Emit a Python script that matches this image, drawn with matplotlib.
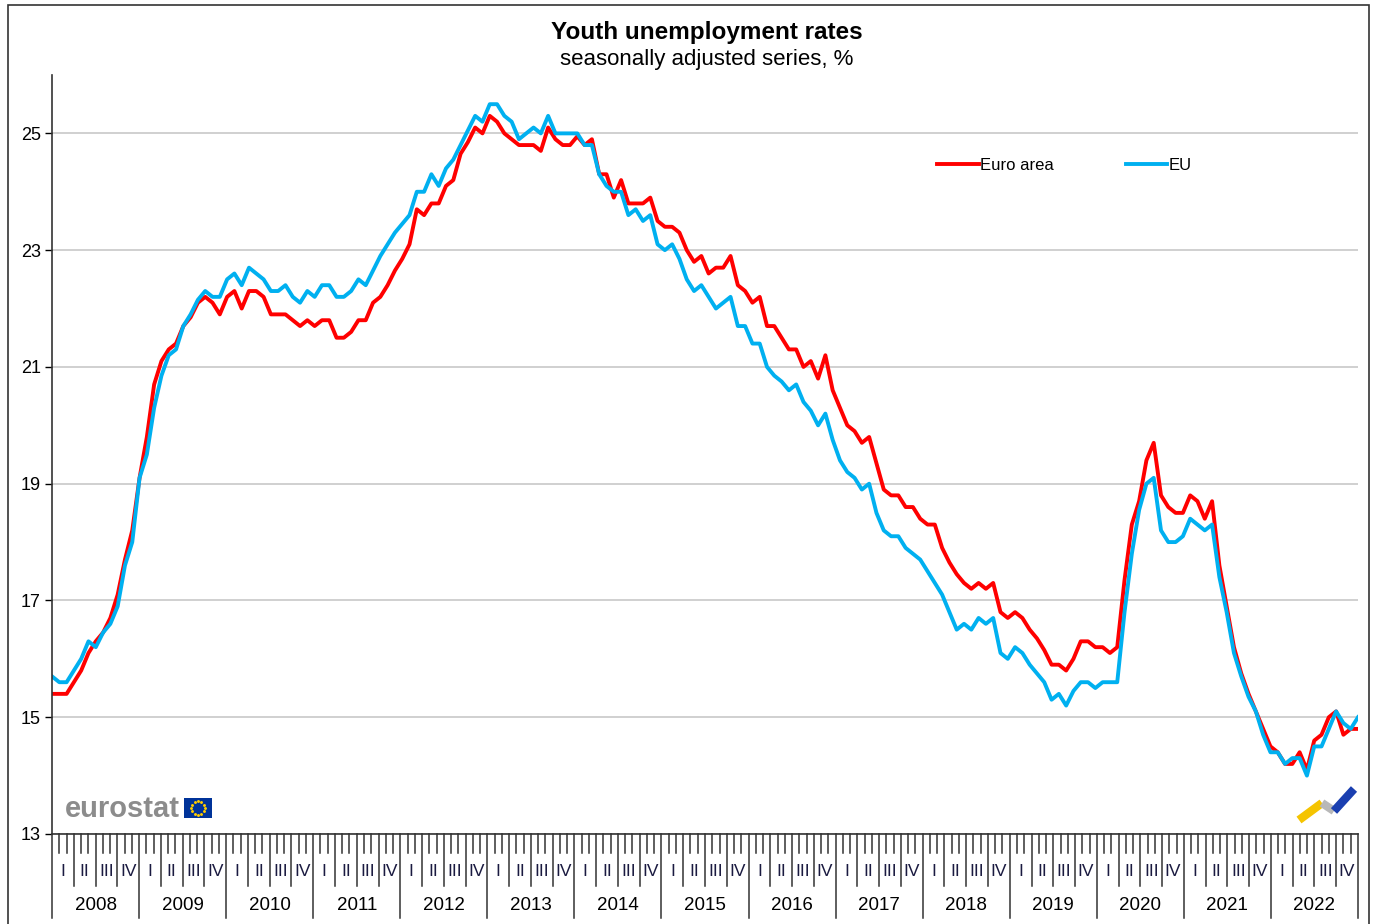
import numpy as np
import matplotlib
matplotlib.use("Agg")
import matplotlib.pyplot as plt
from matplotlib.patches import Rectangle
from matplotlib.lines import Line2D
from matplotlib.transforms import blended_transform_factory

plt.rcParams['font.family'] = ['Liberation Sans', 'DejaVu Sans']

# monthly values, Jan 2008 .. Dec 2022
euro_area = [
    15.4, 15.4, 15.4, 15.6, 15.8, 16.1, 16.3, 16.45, 16.7, 17.1, 17.7, 18.2,
    19.1, 19.8, 20.7, 21.1, 21.3, 21.4, 21.7, 21.85, 22.1, 22.2, 22.1, 21.9,
    22.2, 22.3, 22.0, 22.3, 22.3, 22.2, 21.9, 21.9, 21.9, 21.8, 21.7, 21.8,
    21.7, 21.8, 21.8, 21.5, 21.5, 21.6, 21.8, 21.8, 22.1, 22.2, 22.4, 22.65,
    22.85, 23.1, 23.7, 23.6, 23.8, 23.8, 24.1, 24.2, 24.65, 24.85, 25.1, 25.0,
    25.3, 25.2, 25.0, 24.9, 24.8, 24.8, 24.8, 24.7, 25.1, 24.9, 24.8, 24.8,
    24.95, 24.8, 24.9, 24.3, 24.3, 23.9, 24.2, 23.8, 23.8, 23.8, 23.9, 23.5,
    23.4, 23.4, 23.3, 23.0, 22.8, 22.9, 22.6, 22.7, 22.7, 22.9, 22.4, 22.3,
    22.1, 22.2, 21.7, 21.7, 21.5, 21.3, 21.3, 21.0, 21.1, 20.8, 21.2, 20.6,
    20.3, 20.0, 19.9, 19.7, 19.8, 19.35, 18.9, 18.8, 18.8, 18.6, 18.6, 18.4,
    18.3, 18.3, 17.9, 17.65, 17.45, 17.3, 17.2, 17.3, 17.2, 17.3, 16.8, 16.7,
    16.8, 16.7, 16.5, 16.35, 16.15, 15.9, 15.9, 15.8, 16.0, 16.3, 16.3, 16.2,
    16.2, 16.1, 16.2, 17.35, 18.3, 18.7, 19.4, 19.7, 18.8, 18.6, 18.5, 18.5,
    18.8, 18.7, 18.4, 18.7, 17.6, 16.9, 16.2, 15.75, 15.4, 15.1, 14.8, 14.5,
    14.4, 14.2, 14.2, 14.4, 14.1, 14.6, 14.7, 15.0, 15.1, 14.7, 14.8, 14.8,
]
eu = [
    15.7, 15.6, 15.6, 15.8, 16.0, 16.3, 16.2, 16.45, 16.6, 16.9, 17.6, 18.0,
    19.1, 19.5, 20.3, 20.85, 21.2, 21.3, 21.7, 21.9, 22.15, 22.3, 22.2, 22.2,
    22.5, 22.6, 22.4, 22.7, 22.6, 22.5, 22.3, 22.3, 22.4, 22.2, 22.1, 22.3,
    22.2, 22.4, 22.4, 22.2, 22.2, 22.3, 22.5, 22.4, 22.65, 22.9, 23.1, 23.3,
    23.45, 23.6, 24.0, 24.0, 24.3, 24.1, 24.4, 24.55, 24.8, 25.05, 25.3, 25.2,
    25.5, 25.5, 25.3, 25.2, 24.9, 25.0, 25.1, 25.0, 25.3, 25.0, 25.0, 25.0,
    25.0, 24.8, 24.8, 24.3, 24.1, 24.0, 24.0, 23.6, 23.7, 23.5, 23.6, 23.1,
    23.0, 23.1, 22.85, 22.5, 22.3, 22.4, 22.2, 22.0, 22.1, 22.2, 21.7, 21.7,
    21.4, 21.4, 21.0, 20.85, 20.75, 20.6, 20.7, 20.4, 20.25, 20.0, 20.2, 19.75,
    19.4, 19.2, 19.1, 18.9, 19.0, 18.5, 18.2, 18.1, 18.1, 17.9, 17.8, 17.7,
    17.5, 17.3, 17.1, 16.8, 16.5, 16.6, 16.5, 16.7, 16.6, 16.7, 16.1, 16.0,
    16.2, 16.1, 15.9, 15.75, 15.6, 15.3, 15.4, 15.2, 15.45, 15.6, 15.6, 15.5,
    15.6, 15.6, 15.6, 16.8, 17.8, 18.55, 19.0, 19.1, 18.2, 18.0, 18.0, 18.1,
    18.4, 18.3, 18.2, 18.3, 17.4, 16.8, 16.1, 15.7, 15.35, 15.1, 14.7, 14.4,
    14.4, 14.2, 14.3, 14.3, 14.0, 14.5, 14.5, 14.8, 15.1, 14.9, 14.8, 15.0,
]
years = [str(y) for y in range(2008, 2023)]
quarters = ['I', 'II', 'III', 'IV']
y_ticks = [13, 15, 17, 19, 21, 23, 25]

W, H = 1375, 924
fig = plt.figure(figsize=(W / 100, H / 100), dpi=100)
ax = fig.add_axes([52 / W, 1 - 834 / H, (1358 - 52) / W, (834 - 75) / H])

n = len(euro_area)
x = np.arange(n)
ax.plot(x, euro_area, color='#FF0000', lw=2.8, label='Euro area', solid_joinstyle='round')
ax.plot(x, eu, color='#00B0F0', lw=2.8, label='EU', solid_joinstyle='round')

ax.set_xlim(0, n - 1)
ax.set_ylim(13, 26)
ax.set_yticks(y_ticks)
ax.set_yticklabels([str(v) for v in y_ticks], fontsize=13)
ax.tick_params(axis='y', length=5, width=1, pad=3)
ax.yaxis.grid(True, color='#C8C8C8', lw=1.2)
ax.set_axisbelow(True)
ax.set_xticks([])
for s in ['top', 'right']:
    ax.spines[s].set_visible(False)
ax.spines['left'].set_color('#333333')
ax.spines['bottom'].set_color('#333333')
ax.spines['left'].set_linewidth(1.2)
ax.spines['bottom'].set_linewidth(1.2)

# three-level month / quarter / year ticks below the axis
trans = blended_transform_factory(ax.transData, ax.transAxes)
ah = 834 - 75
step = (n - 1) / n
for j in range(n + 1):
    xb = j * step
    if j % 12 == 0:
        ln = 84 / ah
    elif j % 3 == 0:
        ln = 52 / ah
    else:
        ln = 19 / ah
    ax.plot([xb, xb], [0, -ln], transform=trans, color='#333333', lw=1.1,
            clip_on=False)
for k, yr in enumerate(years):
    ax.text((12 * k + 6) * step, -72 / ah, yr, transform=trans,
            ha='center', va='center', fontsize=13.5)
    for q, ql in enumerate(quarters):
        ax.text((12 * k + 3 * q + 1.5) * step, -38 / ah, ql, transform=trans,
                ha='center', va='center', fontsize=12.5, color='#1a1a40')

leg = ax.legend(loc='center left', bbox_to_anchor=((937 - 52) / 1306, (834 - 165) / ah),
                ncol=2, frameon=False, fontsize=12, handlelength=2.5,
                handletextpad=0.1, columnspacing=4.3, borderpad=0, borderaxespad=0)

fig.text(707 / W, 1 - 33 / H, 'Youth unemployment rates', ha='center', va='center',
         fontsize=17.5, fontweight='bold')
fig.text(707 / W, 1 - 60 / H, 'seasonally adjusted series, %', ha='center', va='center',
         fontsize=16)

# eurostat logo
fig.text(65 / W, 1 - 809 / H, 'eurostat', ha='left', va='center', fontsize=21,
         fontweight='bold', color='#8C8C8C')
flag = fig.add_axes([184 / W, 1 - 818 / H, 28 / W, 20 / H])
flag.set_facecolor('#003399')
ang = np.linspace(0, 2 * np.pi, 13)[:-1]
flag.scatter(np.cos(ang), np.sin(ang), s=1.2, color='#FFCC00')
flag.set_xlim(-2.1, 2.1)
flag.set_ylim(-1.5, 1.5)
flag.set_xticks([])
flag.set_yticks([])
for s in flag.spines.values():
    s.set_visible(False)

# bottom-right decoration
for (x0, y0, x1, y1, c) in [(1299, 820, 1322, 803, '#F5C400'),
                            (1322, 803, 1334, 811, '#B8B8B8'),
                            (1334, 811, 1354, 789, '#1A3FB0')]:
    fig.add_artist(Line2D([x0 / W, x1 / W], [1 - y0 / H, 1 - y1 / H],
                          transform=fig.transFigure, color=c, lw=6,
                          solid_capstyle='butt'))

# outer frame
fig.add_artist(Rectangle((8 / W, -0.01), (1369 - 8) / W, 1 - 5 / H + 0.01,
                         transform=fig.transFigure, fill=False, lw=1.2,
                         edgecolor='#333333'))

fig.savefig('out.png', dpi=100)
